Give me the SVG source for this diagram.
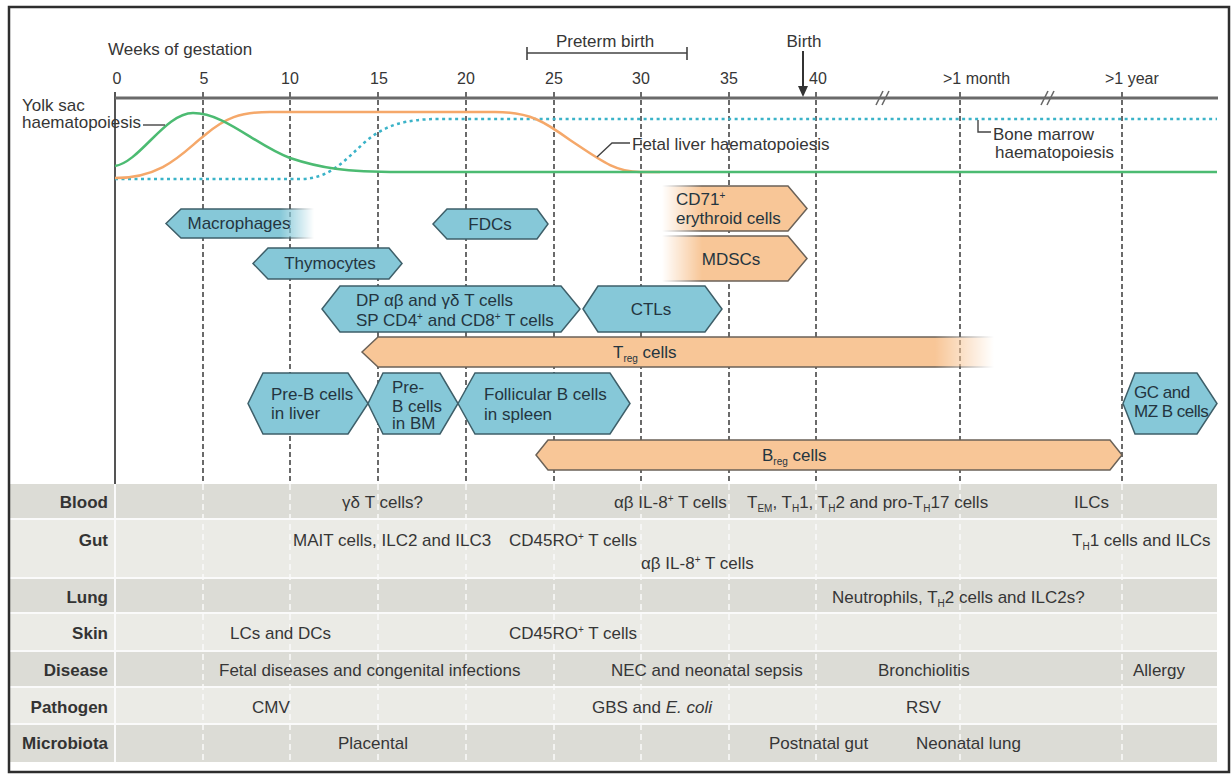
<svg xmlns="http://www.w3.org/2000/svg" width="1232" height="774" viewBox="0 0 1232 774">
  <style>
    .t { font-family: "Liberation Sans", Arial, sans-serif; font-size: 17px; fill: #363636; }
    .num { font-size: 16px; }
    .lbl { font-weight: bold; text-anchor: end; fill: #333; }
    .cell { font-size: 17px; }
    .hx { fill: #243540; }
    .mid { text-anchor: middle; }
    .sm { font-size: 10px; }
    .blue { fill: #86c8d8; stroke: #3e5f69; stroke-width: 1.5; stroke-linejoin: miter; }
    .orange { fill: #f8c697; stroke: #6b6258; stroke-width: 1.5; }
    .grid { stroke: #3a3a3a; stroke-width: 1.5; stroke-dasharray: 5 3; fill: none; }
    .tgrid { stroke: #fafafa; stroke-width: 1.5; stroke-dasharray: 6 4; fill: none; }
    .lead { stroke: #444; stroke-width: 1.4; fill: none; }
    .dark { fill: #dcdcd6; }
    .light { fill: #ebebe6; }
  </style>
  <defs>
    <linearGradient id="gMac" gradientUnits="userSpaceOnUse" x1="280" y1="0" x2="314" y2="0">
      <stop offset="0" stop-color="#fff"/>
      <stop offset="1" stop-color="#000"/>
    </linearGradient>
    <linearGradient id="gLeft" gradientUnits="userSpaceOnUse" x1="662" y1="0" x2="702" y2="0">
      <stop offset="0" stop-color="#000"/>
      <stop offset="1" stop-color="#fff"/>
    </linearGradient>
    <linearGradient id="gTreg" gradientUnits="userSpaceOnUse" x1="935" y1="0" x2="994" y2="0">
      <stop offset="0" stop-color="#fff"/>
      <stop offset="1" stop-color="#000"/>
    </linearGradient>
    <mask id="mMac" maskUnits="userSpaceOnUse" x="150" y="200" width="180" height="50">
      <rect x="150" y="200" width="180" height="50" fill="url(#gMac)"/>
    </mask>
    <mask id="mLeft" maskUnits="userSpaceOnUse" x="650" y="180" width="170" height="110">
      <rect x="650" y="180" width="170" height="110" fill="url(#gLeft)"/>
    </mask>
    <mask id="mTreg" maskUnits="userSpaceOnUse" x="350" y="330" width="660" height="45">
      <rect x="350" y="330" width="660" height="45" fill="url(#gTreg)"/>
    </mask>
  </defs>

  <rect x="0" y="0" width="1232" height="774" fill="#fff"/>

  <!-- table of compartments -->
  <g id="table">
    <rect class="dark" x="10" y="484" width="1207" height="35"/>
    <rect class="light" x="10" y="519" width="1207" height="59"/>
    <rect class="dark" x="10" y="578" width="1207" height="35"/>
    <rect class="light" x="10" y="613" width="1207" height="38"/>
    <rect class="dark" x="10" y="651" width="1207" height="36"/>
    <rect class="light" x="10" y="687" width="1207" height="37"/>
    <rect class="dark" x="10" y="724" width="1207" height="38"/>
    <g stroke="#fafafa" stroke-width="2">
      <line x1="10" y1="519" x2="1217" y2="519"/>
      <line x1="10" y1="578" x2="1217" y2="578"/>
      <line x1="10" y1="613" x2="1217" y2="613"/>
      <line x1="10" y1="651" x2="1217" y2="651"/>
      <line x1="10" y1="687" x2="1217" y2="687"/>
      <line x1="10" y1="724" x2="1217" y2="724"/>
      <line x1="115" y1="484" x2="115" y2="762"/>
    </g>
    <path class="tgrid" d="M203,484V762M290,484V762M378,484V762M466,484V762M554,484V762M641,484V762M729,484V762M816,484V762M960,484V762M1122,484V762"/>

    <text class="t lbl" x="108" y="508">Blood</text>
    <text class="t lbl" x="108" y="546">Gut</text>
    <text class="t lbl" x="108" y="603">Lung</text>
    <text class="t lbl" x="108" y="639">Skin</text>
    <text class="t lbl" x="108" y="676">Disease</text>
    <text class="t lbl" x="108" y="713">Pathogen</text>
    <text class="t lbl" x="108" y="749">Microbiota</text>

    <text class="t cell" x="342" y="508">γδ T cells?</text>
    <text class="t cell" x="614" y="508">αβ IL-8<tspan class="sm" dy="-6">+</tspan><tspan dy="6"> T cells</tspan></text>
    <text class="t cell" x="747" y="508">T<tspan class="sm" dy="4">EM</tspan><tspan dy="-4">, T</tspan><tspan class="sm" dy="4">H</tspan><tspan dy="-4">1, T</tspan><tspan class="sm" dy="4">H</tspan><tspan dy="-4">2 and pro-T</tspan><tspan class="sm" dy="4">H</tspan><tspan dy="-4">17 cells</tspan></text>
    <text class="t cell" x="1074" y="508">ILCs</text>

    <text class="t cell" x="293" y="546">MAIT cells, ILC2 and ILC3</text>
    <text class="t cell" x="509" y="546">CD45RO<tspan class="sm" dy="-6">+</tspan><tspan dy="6"> T cells</tspan></text>
    <text class="t cell" x="641" y="569">αβ IL-8<tspan class="sm" dy="-6">+</tspan><tspan dy="6"> T cells</tspan></text>
    <text class="t cell" x="1072" y="546">T<tspan class="sm" dy="4">H</tspan><tspan dy="-4">1 cells and ILCs</tspan></text>

    <text class="t cell" x="832" y="603">Neutrophils, T<tspan class="sm" dy="4">H</tspan><tspan dy="-4">2 cells and ILC2s?</tspan></text>

    <text class="t cell" x="230" y="639">LCs and DCs</text>
    <text class="t cell" x="509" y="639">CD45RO<tspan class="sm" dy="-6">+</tspan><tspan dy="6"> T cells</tspan></text>

    <text class="t cell" x="219" y="676">Fetal diseases and congenital infections</text>
    <text class="t cell" x="611" y="676">NEC and neonatal sepsis</text>
    <text class="t cell" x="878" y="676">Bronchiolitis</text>
    <text class="t cell" x="1133" y="676">Allergy</text>

    <text class="t cell" x="252" y="713">CMV</text>
    <text class="t cell" x="592" y="713">GBS and <tspan font-style="italic">E. coli</tspan></text>
    <text class="t cell" x="906" y="713">RSV</text>

    <text class="t cell" x="338" y="749">Placental</text>
    <text class="t cell" x="769" y="749">Postnatal gut</text>
    <text class="t cell" x="916" y="749">Neonatal lung</text>
  </g>

  <!-- time axis with week ticks -->
  <g id="axis">
    <line x1="115" y1="92" x2="115" y2="484" stroke="#555" stroke-width="2"/>
    <path class="grid" d="M203,92V484M290,92V484M378,92V484M466,92V484M554,92V484M641,92V484M729,92V484M816,92V484M960,92V484M1122,92V484"/>
    <line x1="115" y1="98" x2="1218" y2="98" stroke="#6a6a6a" stroke-width="3"/>
    <path d="M876,105L883,91M882,105L889,91M1041,105L1048,91M1047,105L1054,91" stroke="#6a6a6a" stroke-width="1.6" fill="none"/>

    <text class="t" x="108" y="55">Weeks of gestation</text>
    <text class="t num mid" x="117" y="84">0</text>
    <text class="t num mid" x="204" y="84">5</text>
    <text class="t num mid" x="290" y="84">10</text>
    <text class="t num mid" x="379" y="84">15</text>
    <text class="t num mid" x="466" y="84">20</text>
    <text class="t num mid" x="554" y="84">25</text>
    <text class="t num mid" x="641" y="84">30</text>
    <text class="t num mid" x="729" y="84">35</text>
    <text class="t num mid" x="818" y="84">40</text>
    <text class="t num" x="943" y="84">&gt;1 month</text>
    <text class="t num" x="1105" y="84">&gt;1 year</text>

    <text class="t mid" x="605" y="47">Preterm birth</text>
    <path d="M527,53H687M527,47V60M687,47V60" stroke="#444" stroke-width="1.6" fill="none"/>

    <text class="t mid" x="804" y="47">Birth</text>
    <line x1="803" y1="51" x2="803" y2="88" stroke="#333" stroke-width="2"/>
    <polygon points="798,86 808,86 803,97" fill="#333"/>
  </g>

  <!-- haematopoiesis curves -->
  <g id="curves" fill="none">
    <path d="M115,179 L300,179 C330,179 345,160 365,142 C385,125 405,119 440,119 L1217,119" stroke="#3bb3c8" stroke-width="2.5" stroke-dasharray="3 3.5"/>
    <path d="M115,178 C165,178 185,150 205,135 C225,118 240,112 270,112 L495,112 C530,112 545,122 570,140 C600,160 615,172 640,172 L660,172" stroke="#f5a86a" stroke-width="2.5"/>
    <path d="M115,166 C140,162 165,113 193,113 C225,113 255,145 290,158 C320,168 345,172 400,172 L1217,172" stroke="#4cbb72" stroke-width="2.5"/>
    <text class="t" x="22" y="111">Yolk sac</text>
    <text class="t" x="22" y="128">haematopoiesis</text>
    <text class="t" x="632" y="150">Fetal liver haematopoiesis</text>
    <text class="t" x="993" y="140">Bone marrow</text>
    <text class="t" x="995" y="158">haematopoiesis</text>
  </g>

  <!-- leader lines from labels to curves -->
  <g id="connectors">
    <path class="lead" d="M143,125H165"/>
    <path class="lead" d="M597,157L612,143H630"/>
    <path class="lead" d="M978,120V132H991"/>
  </g>

  <!-- cell populations -->
  <g id="macrophages">
    <path class="blue" mask="url(#mMac)" d="M166,223.5L181,209H320V238H181Z"/>
    <text class="t hx mid" x="239" y="229">Macrophages</text>
  </g>
  <g id="fdcs">
    <path class="blue" d="M433,224L447,209H537L548,224L537,239H447Z"/>
    <text class="t hx mid" x="490" y="230">FDCs</text>
  </g>
  <g id="thymocytes">
    <path class="blue" d="M253,263.5L268,248H389L402,263.5L389,279H268Z"/>
    <text class="t hx mid" x="330" y="269">Thymocytes</text>
  </g>
  <g id="dp-sp-t-cells">
    <path class="blue" d="M322,309L340,286H561L580,309L561,332H340Z"/>
    <text class="t hx" x="356" y="306" font-size="16">DP αβ and γδ T cells</text>
    <text class="t hx" x="356" y="326" font-size="16">SP CD4<tspan class="sm" dy="-6">+</tspan><tspan dy="6"> and CD8</tspan><tspan class="sm" dy="-6">+</tspan><tspan dy="6"> T cells</tspan></text>
  </g>
  <g id="ctls">
    <path class="blue" d="M583,309L598,286H705L722,309L705,332H598Z"/>
    <text class="t hx mid" x="651" y="315">CTLs</text>
  </g>
  <g id="cd71-erythroid">
    <path class="orange" mask="url(#mLeft)" d="M655,186H788L807,208.5L788,231H655Z"/>
    <text class="t hx" x="676" y="205">CD71<tspan class="sm" dy="-6">+</tspan></text>
    <text class="t hx" x="676" y="224">erythroid cells</text>
  </g>
  <g id="mdscs">
    <path class="orange" mask="url(#mLeft)" d="M655,236H788L807,258.5L788,281H655Z"/>
    <text class="t hx mid" x="731" y="265">MDSCs</text>
  </g>
  <g id="treg">
    <path class="orange" mask="url(#mTreg)" d="M362,352L378,337H1000V367H378Z"/>
    <text class="t hx" x="613" y="358">T<tspan class="sm" dy="4">reg</tspan><tspan dy="-4"> cells</tspan></text>
  </g>
  <g id="pre-b-liver">
    <path class="blue" d="M248,403.5L263,373H348L368,403.5L348,434H263Z"/>
    <text class="t hx" x="271" y="400">Pre-B cells</text>
    <text class="t hx" x="271" y="419">in liver</text>
  </g>
  <g id="pre-b-bm">
    <path class="blue" d="M368,403.5L383,373H440L458,403.5L440,434H383Z"/>
    <text class="t hx" x="392" y="393">Pre-</text>
    <text class="t hx" x="392" y="412">B cells</text>
    <text class="t hx" x="392" y="429">in BM</text>
  </g>
  <g id="follicular-b">
    <path class="blue" d="M458,403.5L475,373H610L630,403.5L610,434H475Z"/>
    <text class="t hx" x="484" y="400">Follicular B cells</text>
    <text class="t hx" x="484" y="420">in spleen</text>
  </g>
  <g id="breg">
    <path class="orange" d="M536,455L548,440H1110L1122,455L1110,470H548Z"/>
    <text class="t hx" x="762" y="461">B<tspan class="sm" dy="4">reg</tspan><tspan dy="-4"> cells</tspan></text>
  </g>
  <g id="gc-mz-b">
    <path class="blue" d="M1123,403.5L1135,373H1197L1217,403.5L1197,434H1135Z"/>
    <text class="t hx" x="1134" y="398" font-size="15" letter-spacing="-0.5">GC and</text>
    <text class="t hx" x="1134" y="417" font-size="15" letter-spacing="-0.5">MZ B cells</text>
  </g>

  <!-- outer frame -->
  <rect x="9" y="7" width="1220" height="765" fill="none" stroke="#2e2e2e" stroke-width="2.5"/>
</svg>
